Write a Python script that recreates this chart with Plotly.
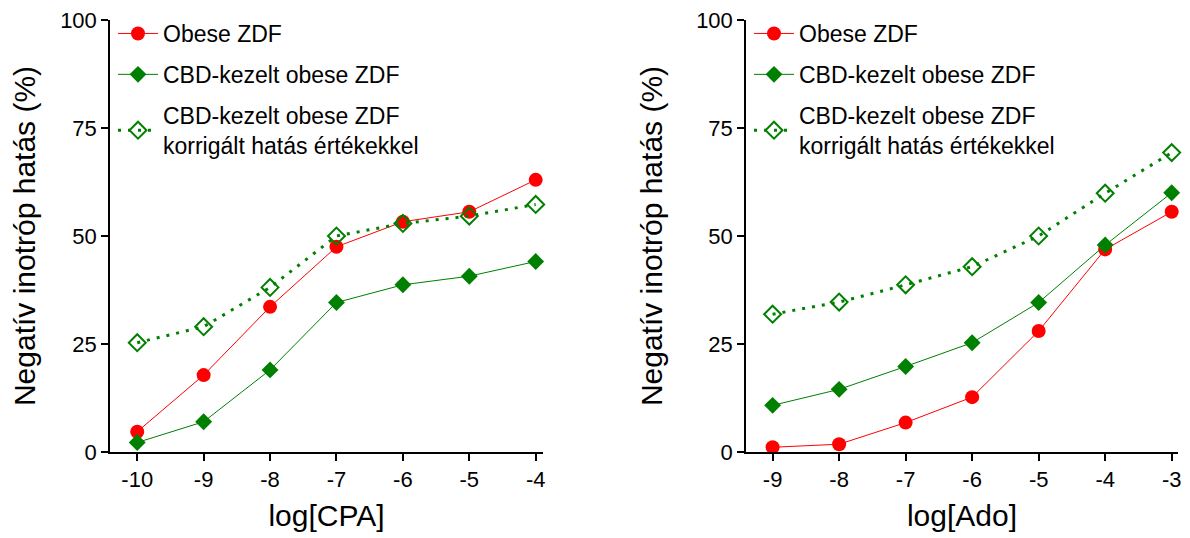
import plotly.graph_objects as go

# ---- data ----
cpa_x = [-10, -9, -8, -7, -6, -5, -4]
cpa_ticktext = ["-10", "-9", "-8", "-7", "-6", "-5", "-4"]
cpa_obese = [4.7, 17.8, 33.6, 47.5, 53.3, 55.6, 63.0]
cpa_cbd = [2.2, 7.0, 19.0, 34.6, 38.7, 40.7, 44.1]
cpa_cbd_corr = [25.3, 29.0, 38.1, 50.0, 52.9, 54.6, 57.3]

ado_x = [-9, -8, -7, -6, -5, -4, -3]
ado_ticktext = ["-9", "-8", "-7", "-6", "-5", "-4", "-3"]
ado_obese = [1.1, 1.8, 6.8, 12.7, 28.0, 46.9, 55.6]
ado_cbd = [10.8, 14.5, 19.8, 25.3, 34.6, 47.9, 60.0]
ado_cbd_corr = [31.9, 34.7, 38.7, 42.9, 50.0, 59.9, 69.3]

names = ["Obese ZDF", "CBD-kezelt obese ZDF",
         "CBD-kezelt obese ZDF<br>korrigált hatás értékekkel"]
y_ticks = [0, 25, 50, 75, 100]

RED = "#FF0000"
GREEN = "#008000"
FONT = "Arial, Liberation Sans, sans-serif"

# page body has an 8px margin, so the figure is drawn 8px in from the corner
OFF = 8
W, H = 1190 - OFF, 538 - OFF
fig = go.Figure()


def add_panel(x, obese, cbd, corr, xa, ya, legend):
    fig.add_trace(go.Scatter(
        x=x, y=obese, mode="lines+markers", name=names[0],
        line=dict(color=RED, width=1),
        marker=dict(symbol="circle", size=14, color=RED),
        xaxis=xa, yaxis=ya, legend=legend, legendgroup=legend + "a",
        cliponaxis=False))
    fig.add_trace(go.Scatter(
        x=x, y=cbd, mode="lines+markers", name=names[1],
        line=dict(color=GREEN, width=1),
        marker=dict(symbol="diamond", size=13, color=GREEN),
        xaxis=xa, yaxis=ya, legend=legend, legendgroup=legend + "b",
        cliponaxis=False))
    fig.add_trace(go.Scatter(
        x=x, y=corr, mode="lines+markers", name=names[2],
        line=dict(color=GREEN, width=3, dash="3px,7px"),
        marker=dict(symbol="diamond-open", size=13, color=GREEN,
                    line=dict(width=2, color=GREEN)),
        xaxis=xa, yaxis=ya, legend=legend, legendgroup=legend + "c",
        cliponaxis=False))


add_panel(cpa_x, cpa_obese, cpa_cbd, cpa_cbd_corr, "x", "y", "legend")
add_panel(ado_x, ado_obese, ado_cbd, ado_cbd_corr, "x2", "y2", "legend2")


def px_x(v):
    return (v - OFF) / W


def px_y(v):
    return 1 - (v - OFF) / H


ydom = [px_y(452), px_y(20)]
yrange = [0, 100]

axis_common = dict(
    showline=True, linecolor="black", linewidth=1.5,
    ticks="outside", ticklen=7, tickwidth=1.5, tickcolor="black",
    showgrid=False, zeroline=False, automargin=False,
    ticklabeloverflow="allow",
    tickfont=dict(family=FONT, size=22, color="black"),
)
title_font = dict(family=FONT, size=30, color="black")

legend_common = dict(
    xanchor="left", yanchor="top", bgcolor="rgba(0,0,0,0)",
    font=dict(family=FONT, size=23, color="black"),
    tracegroupgap=8, itemwidth=40, valign="middle",
)

fig.update_layout(
    width=W, height=H,
    margin=dict(l=0, r=0, t=0, b=0),
    plot_bgcolor="white", paper_bgcolor="white",
    font=dict(family=FONT, color="black"),
    xaxis=dict(domain=[px_x(110), px_x(543)], range=[-10.41, -3.89],
               tickvals=cpa_x, ticktext=cpa_ticktext, anchor="y",
               title=dict(text="log[CPA]", font=title_font, standoff=14),
               **axis_common),
    yaxis=dict(domain=ydom, range=yrange, tickvals=y_ticks, anchor="x",
               title=dict(text="Negatív inotróp hatás (%)", font=title_font, standoff=25),
               **axis_common),
    xaxis2=dict(domain=[px_x(746), px_x(1178)], range=[-9.40, -2.905],
                tickvals=ado_x, ticktext=ado_ticktext, anchor="y2",
                title=dict(text="log[Ado]", font=title_font, standoff=14),
                **axis_common),
    yaxis2=dict(domain=ydom, range=yrange, tickvals=y_ticks, anchor="x2",
                title=dict(text="Negatív inotróp hatás (%)", font=title_font, standoff=25),
                **axis_common),
    legend=dict(x=px_x(113), y=px_y(12), **legend_common),
    legend2=dict(x=px_x(749), y=px_y(12), **legend_common),
)

fig.write_html("out.html")
